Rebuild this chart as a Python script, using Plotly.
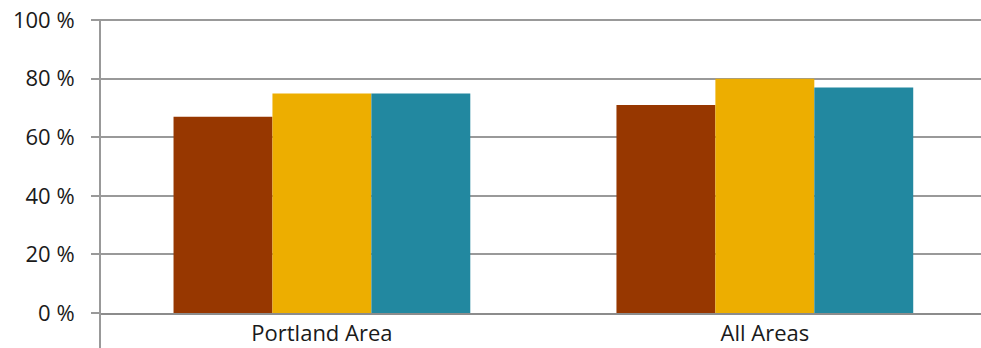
import plotly.graph_objects as go

categories = ['Portland Area', 'All Areas']
series_a = [67, 71]
series_b = [75, 80]
series_c = [75, 77]
y_ticks = [0, 20, 40, 60, 80, 100]
y_labels = ['0 %', '20 %', '40 %', '60 %', '80 %', '100 %']

colors = ['#973700', '#EDAE00', '#2288A0']

fig = go.Figure()
for vals, col in zip([series_a, series_b, series_c], colors):
    fig.add_trace(go.Bar(x=categories, y=vals, marker=dict(color=col, line=dict(width=0)),
                         showlegend=False))

fig.update_layout(
    width=981, height=348,
    margin=dict(l=100, r=0, t=19, b=35),
    barmode='group', bargap=0.33, bargroupgap=0,
    plot_bgcolor='white', paper_bgcolor='white',
    font=dict(family='Open Sans', size=22, color='#1a1a1a'),
)
fig.update_xaxes(range=[-0.501, 1.488], showgrid=False, showline=True, linecolor='#8c8c8c',
                 linewidth=2, ticks='', tickfont=dict(size=22), automargin=False)
fig.update_yaxes(range=[0, 100.4], tickvals=y_ticks, ticktext=y_labels,
                 showgrid=True, gridcolor='#999', gridwidth=2, zeroline=False, showline=False,
                 ticks='outside', ticklen=8, tickcolor='#999', tickwidth=2,
                 tickfont=dict(size=22), ticklabelstandoff=12, ticklabeloverflow='allow',
                 automargin=False)
# y axis line runs down past the category axis
fig.add_shape(type='line', xref='paper', yref='paper', x0=0, x1=0, y0=-35 / 294, y1=1,
              line=dict(color='#999', width=2))

# drop the page's default body margin and scrollbars so the figure fills the window
page_js = ("document.body.style.margin='0';"
           "document.body.style.overflow='hidden';"
           "document.documentElement.style.overflow='hidden';")
fig.write_html("out.html", post_script=page_js, config={'displayModeBar': False})
